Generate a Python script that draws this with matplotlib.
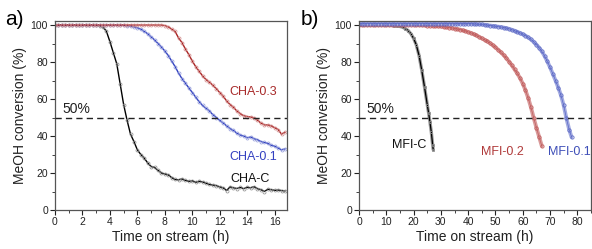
import matplotlib
matplotlib.use("Agg")
import matplotlib.pyplot as plt
from matplotlib.ticker import MultipleLocator

plt.rcParams['font.family'] = ['Liberation Sans', 'DejaVu Sans']

# ---------------- Panel a data (CHA series) ----------------
t_cha = [0.0, 0.25, 0.5, 0.75, 1.0, 1.25, 1.5, 1.75, 2.0, 2.25, 2.5, 2.75,
         3.0, 3.25, 3.5, 3.75, 4.0, 4.25, 4.5, 4.75, 5.0, 5.25, 5.5, 5.75,
         6.0, 6.25, 6.5, 6.75, 7.0, 7.25, 7.5, 7.75, 8.0, 8.25, 8.5, 8.75,
         9.0, 9.25, 9.5, 9.75, 10.0, 10.25, 10.5, 10.75, 11.0, 11.25, 11.5, 11.75,
         12.0, 12.25, 12.5, 12.75, 13.0, 13.25, 13.5, 13.75, 14.0, 14.25, 14.5, 14.75,
         15.0, 15.25, 15.5, 15.75, 16.0, 16.25, 16.5, 16.75]

cha_c = [100, 100, 100, 100, 100, 100, 100, 100, 100, 100, 100, 100,
         100, 99.5, 99, 96.5, 91, 85, 79, 68, 57, 48.5, 41, 37,
         32.5, 30, 28, 25.5, 23.5, 23, 21.5, 20, 19.5, 19, 17.5, 16.5,
         16.3, 16.8, 16, 15.5, 15.8, 15, 15.5, 15.2, 14.5, 13.8, 13.5, 13.2,
         12.5, 12.0, 10.5, 12.5, 12.0, 11.6, 12.2, 11.5, 12.3, 12.0, 12.6, 11.5,
         11.0, 10.0, 11.2, 11.0, 10.6, 10.8, 10.5, 10.3]

cha_01 = [100, 100, 100, 100, 100, 100, 100, 100, 100, 100, 100, 100,
          100, 100, 100, 100, 100, 100, 100, 100, 99.8, 99.6, 99.4, 99,
          98.5, 97.8, 96.5, 95.3, 93.5, 92, 90, 88, 86, 83.5, 80.5, 77.5,
          74, 71, 68.5, 66, 63.5, 61, 58.5, 56.5, 55, 53.5, 51.5, 50,
          48.5, 47, 45.5, 44, 43, 41.5, 40.5, 40, 39, 39.5, 38.5, 38,
          37, 36.5, 36, 35, 34.5, 33.5, 32.5, 33]

cha_03 = [100, 100, 100, 100, 100, 100, 100, 100, 100, 100, 100, 100,
          100, 100, 100, 100, 100, 100, 100, 100, 100, 100, 100, 100,
          100, 100, 100, 100, 100, 100, 100, 100, 99.7, 99, 97.8, 96.5,
          93, 90.5, 87, 84, 80.5, 77.5, 75, 72.5, 70.5, 69, 67.5, 65.5,
          63.5, 61.5, 59, 57, 55.5, 53.5, 52, 51, 50.5, 50.3, 49.8, 48.5,
          47, 46, 46, 45.5, 44.5, 43.5, 41, 42]

# ---------------- Panel b data (MFI series) ----------------
t_mfi_c = [0, 1, 2, 3, 4, 5, 6, 7, 8, 9, 10, 11, 12, 13, 14, 15, 16, 17, 18,
           19, 20, 21, 22, 23, 24, 25, 25.5, 26, 26.5, 27, 27.2]
mfi_c = [99.8, 99.8, 99.8, 99.8, 99.8, 99.8, 99.8, 99.8, 99.8, 99.8, 99.8, 99.8,
         99.8, 99.7, 99.5, 99.2, 98.8, 98.0, 97.0, 95.3, 92.8, 89.2, 83.5, 75.5,
         66.5, 57, 52.5, 47.5, 42, 35, 32.6]

t_mfi_02 = list(range(0, 68))
mfi_02 = [100.2] * 21 + [100.1, 100.0, 99.9, 99.8, 99.7, 99.6, 99.5, 99.4, 99.3, 99.2,
                         99.0, 98.8, 98.6, 98.4, 98.1, 97.8, 97.5, 97.1, 96.7, 96.2,
                         95.7, 95.1, 94.4, 93.6, 92.8, 92.0, 91.2, 90.2, 89.1, 87.9,
                         86.6, 85.2, 83.7, 82.1, 80.2, 78.2, 76.0, 73.8, 71.3, 68.3,
                         64.7, 60.5, 55.5, 49.8, 44.5, 39.5, 34.5]

t_mfi_01 = list(range(0, 78)) + [77.9]
mfi_01 = [100.8] * 41 + [100.7, 100.6, 100.5, 100.4, 100.3, 100.1, 99.9, 99.7, 99.5, 99.3,
                         99.1, 98.9, 98.6, 98.3, 97.9, 97.4, 96.9, 96.3, 95.7, 95.0,
                         94.2, 93.3, 92.2, 90.9, 89.4, 87.7, 85.7, 83.2, 80.3, 77.1,
                         73.6, 70.0, 66.2, 62.0, 56.5, 49.5, 43.5, 39.3]

fig = plt.figure(figsize=(5.92, 2.49), dpi=100)
ax1 = fig.add_axes([55 / 592, 39 / 249, 232 / 592, 188.7 / 249])
ax2 = fig.add_axes([359 / 592, 39 / 249, 232 / 592, 188.7 / 249])

frame_col = '#555555'

def style(ax, xmax, xmaj, xmin):
    ax.set_xlim(0, xmax)
    ax.set_ylim(0, 102)
    ax.xaxis.set_major_locator(MultipleLocator(xmaj))
    ax.xaxis.set_minor_locator(MultipleLocator(xmin))
    ax.yaxis.set_major_locator(MultipleLocator(20))
    ax.yaxis.set_minor_locator(MultipleLocator(10))
    ax.tick_params(which='major', direction='out', length=3.5, width=0.8,
                   labelsize=7.5, pad=1.5, colors='#222222')
    ax.tick_params(which='minor', direction='out', length=2, width=0.6, colors='#222222')
    for s in ax.spines.values():
        s.set_color(frame_col)
        s.set_linewidth(0.9)
    ax.set_xlabel('Time on stream (h)', fontsize=10, labelpad=2, color='#222222')
    ax.set_ylabel('MeOH conversion (%)', fontsize=10, labelpad=3, color='#222222')
    ax.axhline(50, color='#222222', lw=1.0, dashes=(4.5, 3), zorder=5)

# Panel a
style(ax1, 16.9, 2, 1)
ax1.plot(t_cha, cha_c, color='black', lw=1.0, marker='o', ms=2.2,
         mfc='none', mec='#8a8a8a', mew=0.5)
ax1.plot(t_cha, cha_01, color='#2f3fc0', lw=1.0, marker='o', ms=2.2,
         mfc='none', mec='#8f98d8', mew=0.5)
ax1.plot(t_cha, cha_03, color='#a82222', lw=1.0, marker='o', ms=2.2,
         mfc='none', mec='#d08a8a', mew=0.5)
ax1.text(12.7, 64, 'CHA-0.3', color='#a82a2a', fontsize=9, va='center', ha='left')
ax1.text(12.7, 28.8, 'CHA-0.1', color='#3340c0', fontsize=9, va='center', ha='left')
ax1.text(12.8, 16.6, 'CHA-C', color='#111111', fontsize=9, va='center', ha='left')
ax1.text(0.55, 50.8, '50%', color='#222222', fontsize=10, va='bottom', ha='left')
fig.text(5 / 592, 1 - 19 / 249, 'a)', fontsize=15, va='center', ha='left')

# Panel b
style(ax2, 85, 10, 5)
ax2.plot(t_mfi_c, mfi_c, color='#9a9a9a', lw=2.4, solid_capstyle='round')
ax2.plot(t_mfi_c, mfi_c, color='black', lw=0.9, marker='s', ms=2.0,
         mfc='none', mec='#8c8c8c', mew=0.6)
ax2.plot(t_mfi_02, mfi_02, color='#d99a9a', lw=2.8, solid_capstyle='round')
ax2.plot(t_mfi_02, mfi_02, color='#c06060', lw=0.5, marker='o', ms=2.4,
         mfc='none', mec='#c05858', mew=0.5)
ax2.plot(t_mfi_01, mfi_01, color='#a3abe0', lw=2.8, solid_capstyle='round')
ax2.plot(t_mfi_01, mfi_01, color='#5a68c8', lw=0.5, marker='o', ms=2.4,
         mfc='none', mec='#5a66c4', mew=0.5)
ax2.text(24.8, 35.1, 'MFI-C', color='#111111', fontsize=9, va='center', ha='right')
ax2.text(44.7, 31.5, 'MFI-0.2', color='#b03a3a', fontsize=9, va='center', ha='left')
ax2.text(69.1, 31.5, 'MFI-0.1', color='#3f4fb8', fontsize=9, va='center', ha='left')
ax2.text(2.9, 50.8, '50%', color='#222222', fontsize=10, va='bottom', ha='left')
fig.text(301 / 592, 1 - 19 / 249, 'b)', fontsize=15, va='center', ha='left')

fig.savefig('out.png', dpi=100)
